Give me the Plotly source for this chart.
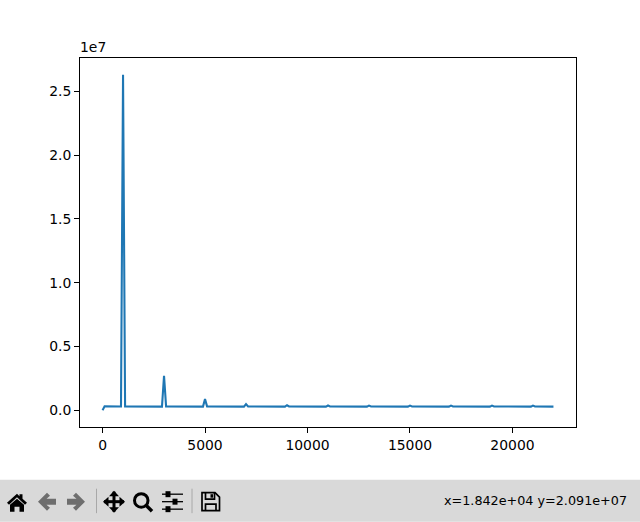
import plotly.graph_objects as go

# Data
freq = [0, 100, 900, 1000, 1100, 2900, 3000, 3100, 4900, 5000, 5100, 6900, 7000, 7100,
        8900, 9000, 9100, 10900, 11000, 11100, 12900, 13000, 13100, 14900, 15000, 15100,
        16900, 17000, 17100, 18900, 19000, 19100, 20900, 21000, 21100, 22000]
amplitude = [0.0, 3.1e5, 2.95e5, 2.63e7, 3.0e5, 2.85e5, 2.7e6, 3.0e5, 2.85e5, 8.7e5, 3.0e5,
             2.85e5, 4.8e5, 3.0e5, 2.85e5, 3.9e5, 2.95e5, 2.85e5, 3.7e5, 2.95e5, 2.85e5, 3.6e5, 2.95e5,
             2.85e5, 3.6e5, 2.95e5, 2.85e5, 3.6e5, 2.95e5, 2.85e5, 3.6e5, 2.95e5, 2.85e5, 3.6e5, 2.95e5, 2.85e5]
x_ticks = [0, 5000, 10000, 15000, 20000]
x_labels = ["0", "5000", "10000", "15000", "20000"]
y_ticks = [0, 5e6, 1e7, 1.5e7, 2e7, 2.5e7]
y_labels = ["0.0", "0.5", "1.0", "1.5", "2.0", "2.5"]
offset_label = "1e7"
status_text = "x=1.842e+04 y=2.091e+07"

W, H = 640, 522
L, R, T, B = 80, 576, 57.6, 427.2
FONT = "DejaVu Sans"


def px(x):
    return (x - L) / (R - L)


def py(y):
    return (B - y) / (B - T)


def path(points, close=True):
    s = "M" + " L".join(f"{px(x):.5f},{py(y):.5f}" for x, y in points)
    return s + (" Z" if close else "")


def filled(points, color="black"):
    return dict(type="path", xref="paper", yref="paper", path=path(points), fillcolor=color,
                line=dict(width=0), layer="above")


def stroke(points, width=2, color="black", close=False):
    return dict(type="path", xref="paper", yref="paper", path=path(points, close),
                line=dict(width=width, color=color), layer="above")


def mirror(points, cx):
    return [(2 * cx - x, y) for x, y in points]


shapes = [dict(type="rect", xref="paper", yref="paper", x0=px(0), x1=px(W), y0=py(480), y1=py(522),
               fillcolor="#d9d9d9", line=dict(width=0), layer="below")]

# home
shapes.append(filled([(7, 503), (17, 494), (19.5, 496.5), (19.5, 494.5), (22.5, 494.5), (22.5, 499),
                      (27, 503), (25, 505), (17, 497.5), (9, 505)]))
shapes.append(filled([(10, 505), (17, 499), (24, 505), (24, 512), (19.5, 512), (19.5, 507),
                      (14.5, 507), (14.5, 512), (10, 512)]))

# back / forward (dithered grey in the toolbar)
back = [(38, 502), (47, 493), (50, 496), (46.5, 499), (56, 499), (56, 505), (46.5, 505),
        (50, 508), (47, 511)]
shapes.append(filled(back, "#6e6e6e"))
shapes.append(filled(mirror(back, 61.5), "#6e6e6e"))

# separators
for sx in (96.5, 192):
    shapes.append(stroke([(sx, 489), (sx, 513.5)], 1, "#a8a8a8"))

# move
shapes.append(stroke([(104, 502), (124, 502)], 3))
shapes.append(stroke([(114, 492), (114, 512)], 3))
for tri in ([(103, 502), (108.5, 497), (108.5, 507)], [(125, 502), (119.5, 497), (119.5, 507)],
            [(114, 491), (109, 496.5), (119, 496.5)], [(114, 513), (109, 507.5), (119, 507.5)]):
    shapes.append(filled(tri))

# zoom
shapes.append(dict(type="circle", xref="paper", yref="paper", x0=px(134.5), x1=px(148), y0=py(494),
                   y1=py(507.5), line=dict(width=3, color="black"), layer="above"))
shapes.append(stroke([(146, 505.5), (152, 511.5)], 3.5))

# sliders
for sy, kx in ((494.5, 168), (502, 175), (509.5, 168)):
    shapes.append(stroke([(162, sy), (183, sy)], 1.3))
    shapes.append(filled([(kx - 2.5, sy - 3), (kx + 2.5, sy - 3), (kx + 2.5, sy + 3), (kx - 2.5, sy + 3)]))

# save
shapes.append(stroke([(202, 493), (215, 493), (219.5, 497.5), (219.5, 511), (202, 511)], 1.7, close=True))
shapes.append(stroke([(205.5, 493), (205.5, 499.5), (214.5, 499.5), (214.5, 493)], 1.7))
shapes.append(filled([(210.5, 494.5), (213, 494.5), (213, 498), (210.5, 498)]))
shapes.append(stroke([(205.5, 511), (205.5, 504.5), (216, 504.5), (216, 511)], 1.7))

fig = go.Figure(go.Scatter(x=freq, y=amplitude, mode="lines", line=dict(color="#1f77b4", width=2.08),
                           hoverinfo="skip"))

axis = dict(showgrid=False, zeroline=False, showline=True, mirror=True, linecolor="black", linewidth=1.1,
            ticks="outside", ticklen=4.9, tickwidth=1.1, tickcolor="black",
            tickfont=dict(family=FONT, size=13.9, color="black"))
fig.update_xaxes(range=[-1100, 23100], tickmode="array", tickvals=x_ticks, ticktext=x_labels, **axis)
fig.update_yaxes(range=[-1.315e6, 2.7615e7], tickmode="array", tickvals=y_ticks, ticktext=y_labels, **axis)

fig.update_layout(
    width=W, height=H, paper_bgcolor="white", plot_bgcolor="white", showlegend=False,
    margin=dict(l=L, r=W - R, t=T, b=H - B, pad=0), shapes=shapes,
    annotations=[
        dict(text=offset_label, xref="paper", yref="paper", x=px(80), y=py(55), xanchor="left",
             yanchor="bottom", showarrow=False, font=dict(family=FONT, size=13.9, color="black"),
             borderpad=0, borderwidth=0),
        dict(text=status_text, xref="paper", yref="paper", x=px(627), y=py(500.5), xanchor="right",
             yanchor="middle", showarrow=False, font=dict(family=FONT, size=12.75, color="black"),
             borderpad=0, borderwidth=0),
    ],
)

fig.write_html("out.html", config=dict(displayModeBar=False),
               post_script="document.body.style.margin='0';document.body.style.overflow='hidden';")
